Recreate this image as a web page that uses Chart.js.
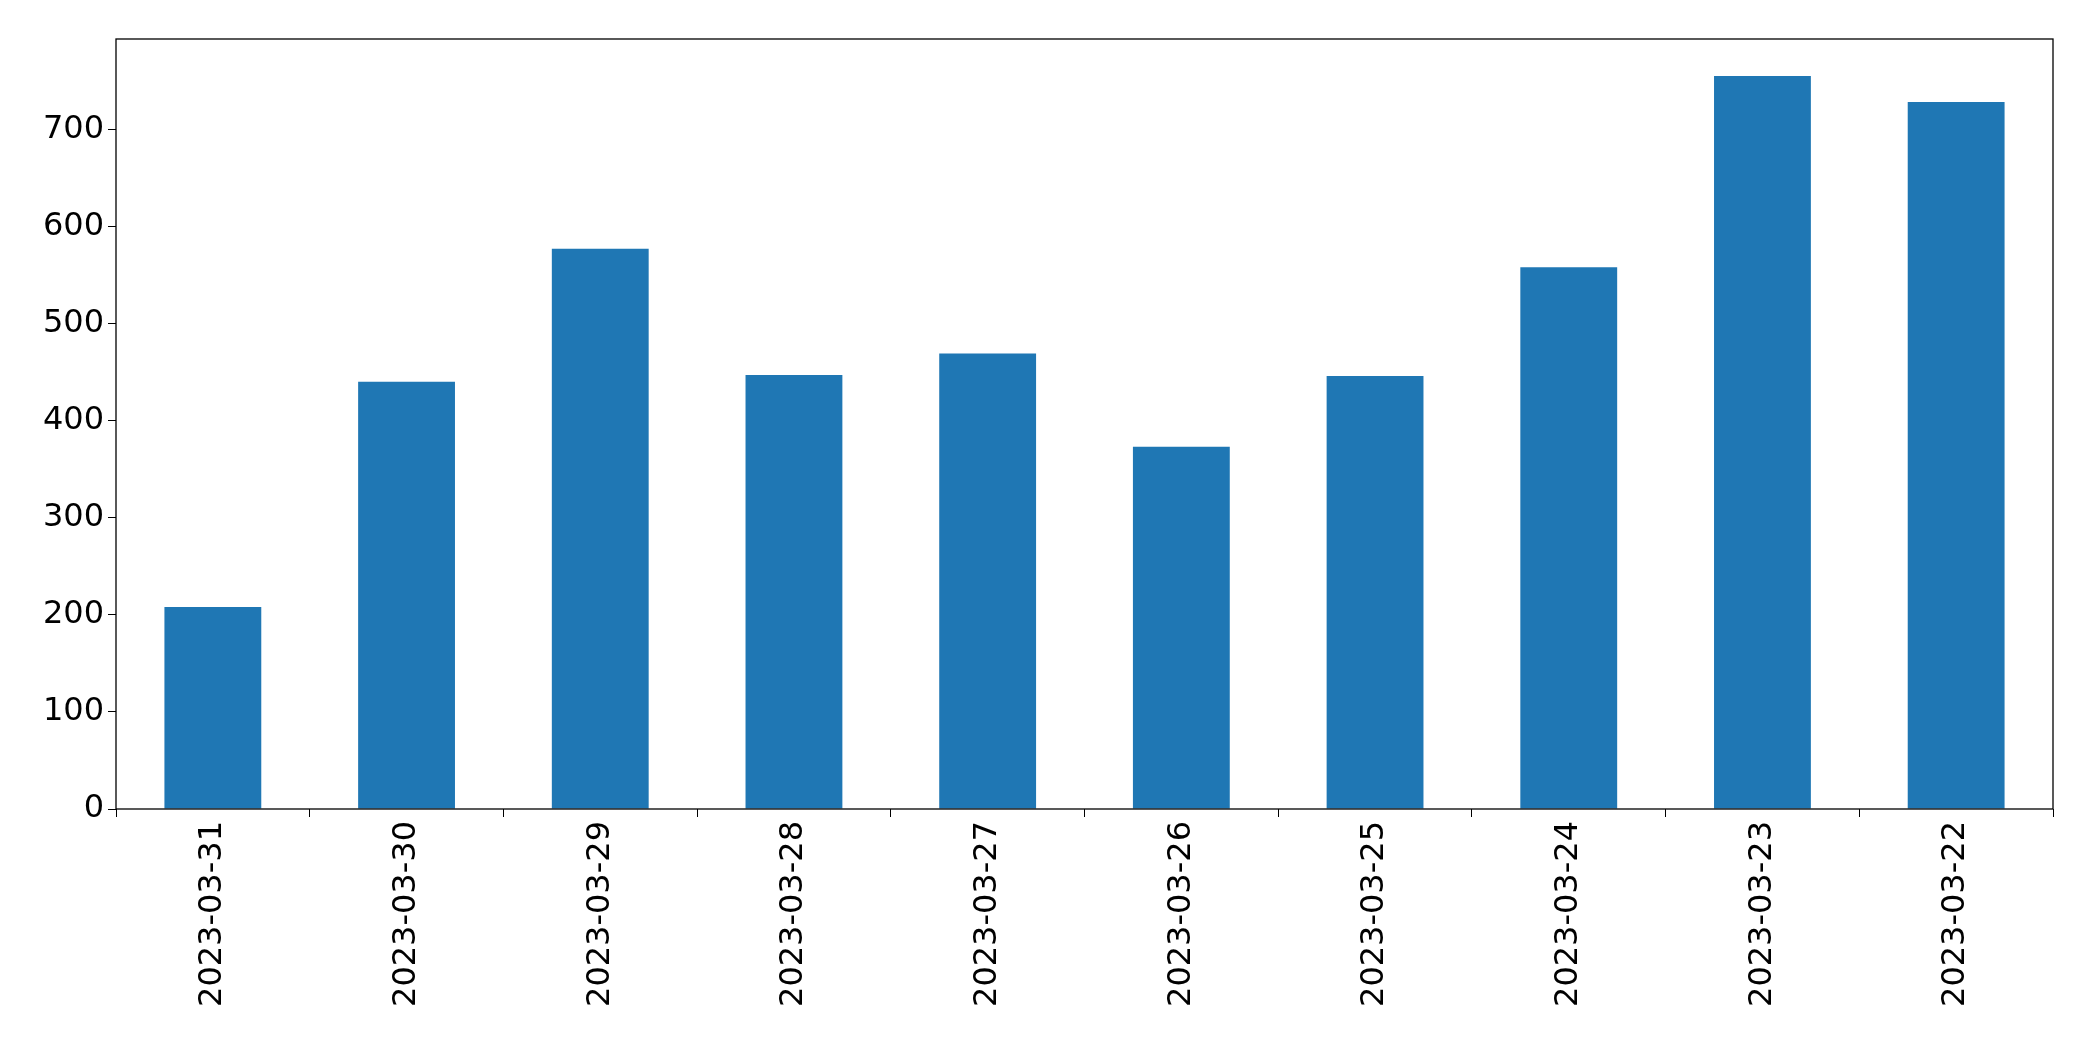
<!DOCTYPE html>
<html>
<head>
<script src="https://cdn.jsdelivr.net/npm/chart.js@4"></script>
<style>body{margin:0;background:#fff}</style>
</head>
<body>
<canvas id="c" width="2093" height="1061"></canvas>
<script>
const categories = ['2023-03-31','2023-03-30','2023-03-29','2023-03-28','2023-03-27','2023-03-26','2023-03-25','2023-03-24','2023-03-23','2023-03-22'];
const values = [208, 440, 577, 447, 469, 373, 446, 558, 755, 728];
const yTicks = [0, 100, 200, 300, 400, 500, 600, 700];

const frame = {
  id: 'frame',
  afterDraw(chart) {
    const a = chart.chartArea, ctx = chart.ctx;
    ctx.save();
    ctx.strokeStyle = '#000';
    ctx.lineWidth = 1.3;
    ctx.strokeRect(a.left, a.top, a.right - a.left, a.bottom - a.top);
    ctx.restore();
  }
};

new Chart(document.getElementById('c'), {
  type: 'bar',
  data: {
    labels: categories,
    datasets: [{ data: values, backgroundColor: '#1f77b4', categoryPercentage: 1, barPercentage: 0.5 }]
  },
  options: {
    responsive: false,
    animation: false,
    layout: { padding: { top: 39, right: 40 } },
    plugins: { legend: { display: false }, tooltip: { enabled: false } },
    scales: {
      x: {
        grid: { drawOnChartArea: false, tickLength: 8, color: '#000' },
        border: { display: false },
        ticks: { color: '#000', font: { size: 32, family: 'DejaVu Sans' }, maxRotation: 90, minRotation: 90, padding: 4 },
        afterFit(s) { s.height = 252; }
      },
      y: {
        min: 0, max: 793,
        afterBuildTicks(s) { s.ticks = yTicks.map(v => ({ value: v })); },
        grid: { drawOnChartArea: false, tickLength: 8, color: '#000' },
        border: { display: false },
        ticks: { color: '#000', font: { size: 32, family: 'DejaVu Sans' }, padding: 4 },
        afterFit(s) { s.width = 116; }
      }
    }
  },
  plugins: [frame]
});
</script>
</body>
</html>
